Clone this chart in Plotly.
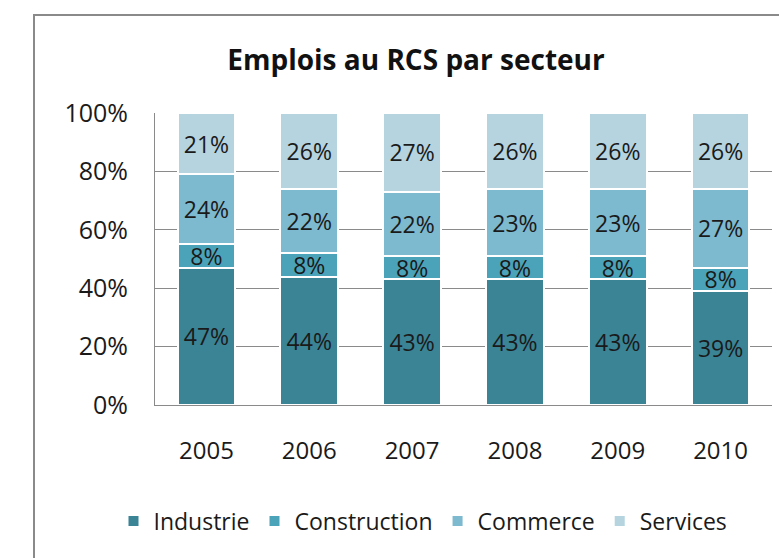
import plotly.graph_objects as go

years = ["2005", "2006", "2007", "2008", "2009", "2010"]
industrie = [47, 44, 43, 43, 43, 39]
construction = [8, 8, 8, 8, 8, 8]
commerce = [24, 22, 22, 23, 23, 27]
services = [21, 26, 27, 26, 26, 26]
series_names = ["Industrie", "Construction", "Commerce", "Services"]
colors = ["#3A8496", "#4BA3B9", "#7DB9CF", "#B5D4E0"]
y_ticks = [0, 20, 40, 60, 80, 100]

FONT = "'Open Sans', sans-serif"

fig = go.Figure()
for name, vals, col in zip(series_names, [industrie, construction, commerce, services], colors):
    fig.add_trace(go.Bar(
        x=years, y=vals, name=name,
        marker=dict(color=col, line=dict(color="white", width=2)),
        text=[f"{v}%" for v in vals],
        textposition="inside", insidetextanchor="middle", textangle=0,
        textfont=dict(size=23, color="#1a1a1a", family=FONT),
        hoverinfo="skip",
    ))

L, R, T, B = 155, 7, 113, 153
W, H = 779, 558
pw, ph = W - L - R, H - T - B

def px(x):
    return (x - L) / pw

def py(y):
    return (H - B - y) / ph

fig.update_layout(
    width=W, height=H,
    barmode="stack", bargap=0.44,
    margin=dict(l=L, r=R, t=T, b=B, autoexpand=False),
    paper_bgcolor="white", plot_bgcolor="white",
    font=dict(family=FONT, color="#1a1a1a"),
    uniformtext=dict(mode="show", minsize=23),
    title=dict(text="<b>Emplois au RCS par secteur</b>", x=416 / W, xanchor="center",
               y=1 - 60 / H, yanchor="middle", xref="container", yref="container",
               font=dict(size=28, family=FONT, color="#111")),
    legend=dict(orientation="h", x=423 / W, xanchor="center", y=1 - 521 / H, yanchor="middle",
                xref="container", yref="container", font=dict(size=23, family=FONT, color="#1a1a1a"),
                traceorder="normal", itemwidth=30),
    xaxis=dict(showline=True, linecolor="#8a8a8a", linewidth=1, ticks="", showgrid=False,
               automargin=False, ticklabelstandoff=24,
               tickfont=dict(size=24, family=FONT, color="#1a1a1a")),
    yaxis=dict(range=[0, 100], tickvals=y_ticks, ticktext=[f"{v}%" for v in y_ticks],
               showgrid=True, gridcolor="#8a8a8a", gridwidth=1, showline=True, linecolor="#8a8a8a",
               linewidth=1, ticks="", ticklabelstandoff=21, zeroline=False, automargin=False,
               tickfont=dict(size=25, family=FONT, color="#1a1a1a")),
    shapes=[dict(type="rect", xref="paper", yref="paper",
                 x0=px(34), x1=px(790), y0=py(600), y1=py(15),
                 line=dict(color="#8a8a8a", width=2), fillcolor="rgba(0,0,0,0)", layer="below")],
)

fig.write_html("out.html", config={"displayModeBar": False},
               post_script="document.body.style.margin='0';")
